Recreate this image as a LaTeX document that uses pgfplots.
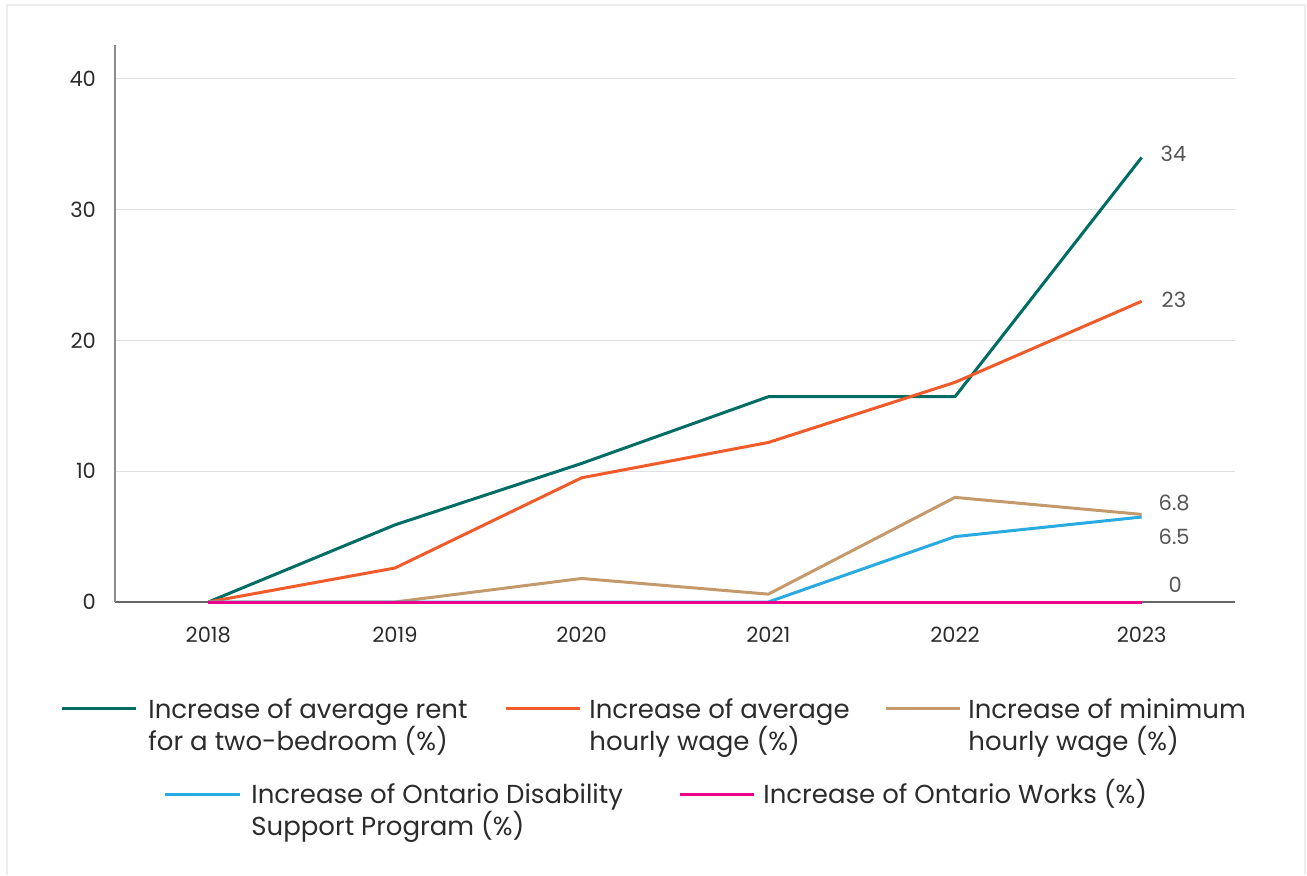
\documentclass[border=0pt]{standalone}
\usepackage{pgfplots}
\pgfplotsset{compat=1.18}
\usepackage{fontspec}
\setmainfont{Poppins}

\definecolor{rent}{HTML}{006D64}
\definecolor{avgwage}{HTML}{F15A29}
\definecolor{minwage}{HTML}{C49A6C}
\definecolor{odsp}{HTML}{29ABE2}
\definecolor{ow}{HTML}{EC008C}
\definecolor{txt}{HTML}{2B2B2B}
\definecolor{lbl}{HTML}{555555}

\begin{document}
\begin{tikzpicture}[x=0.5pt,y=0.5pt]
% page frame (1 px = 0.5 pt, origin bottom left)
\useasboundingbox (0,0) rectangle (1307,875);
\draw[color=black!7,line width=1pt] (7,0) -- (7,870) -- (1305,870) -- (1305,0);

\begin{axis}[
  at={(57.5pt,136.5pt)}, anchor=south west,
  scale only axis,
  width=560pt, height=278.5pt,
  xmin=-0.5, xmax=5.5,
  ymin=0, ymax=42.6,
  xtick={0,...,5},
  xticklabels={2018,2019,2020,2021,2022,2023},
  ytick={0,10,20,30,40},
  axis lines=left,
  axis line style={-},
  x axis line style={color=black!60,line width=0.6pt},
  y axis line style={color=black!45,line width=0.6pt},
  major tick length=0pt,
  ymajorgrids,
  grid style={color=black!12,line width=0.5pt},
  tick label style={font=\fontsize{10.5}{12}\selectfont,color=txt},
  /pgf/number format/assume math mode=true,
  xticklabel style={yshift=-9pt},
  yticklabel style={xshift=-6pt},
  clip=false,
  every axis plot/.append style={line width=1.5pt,line join=round},
]
\addplot[color=rent] coordinates {(0,0) (1,5.9) (2,10.6) (3,15.7) (4,15.7) (5,34)};
\addplot[color=avgwage] coordinates {(0,0) (1,2.6) (2,9.5) (3,12.2) (4,16.8) (5,23)};
\addplot[color=minwage] coordinates {(0,0) (1,0) (2,1.8) (3,0.6) (4,8.0) (5,6.7)};
\addplot[color=odsp] coordinates {(0,0) (1,0) (2,0) (3,0) (4,5.0) (5,6.5)};
\addplot[color=ow] coordinates {(0,0) (1,0) (2,0) (3,0) (4,0) (5,0)};

\begin{scope}[every node/.style={font=\fontsize{10.5}{12}\selectfont,color=lbl,anchor=west}]
\node at (axis cs:5,34.3) [xshift=6pt] {34};
\node at (axis cs:5,23.1) [xshift=6.5pt] {23};
\node at (axis cs:5,7.6) [xshift=5pt] {6.8};
\node at (axis cs:5,5.0) [xshift=5pt] {6.5};
\node at (axis cs:5,1.3) [xshift=10pt] {0};
\end{scope}
\end{axis}

% legend
\begin{scope}[every node/.style={font=\fontsize{13}{16}\selectfont,color=txt,align=left,anchor=base west,inner sep=0pt}]
\draw[rent,line width=1.5pt] (62,167) -- (136,167);
\node at (148,125) {Increase of average rent\\for a two-bedroom (\%)};
\draw[avgwage,line width=1.5pt] (506,167) -- (580,167);
\node at (589,125) {Increase of average\\hourly wage (\%)};
\draw[minwage,line width=1.5pt] (886,167) -- (960,167);
\node at (968,125) {Increase of minimum\\hourly wage (\%)};
\draw[odsp,line width=1.5pt] (165,81) -- (240,81);
\node at (251,40) {Increase of Ontario Disability\\Support Program (\%)};
\draw[ow,line width=1.5pt] (680,81) -- (754,81);
\node at (763,72) {Increase of Ontario Works (\%)};
\end{scope}
\end{tikzpicture}
\end{document}
